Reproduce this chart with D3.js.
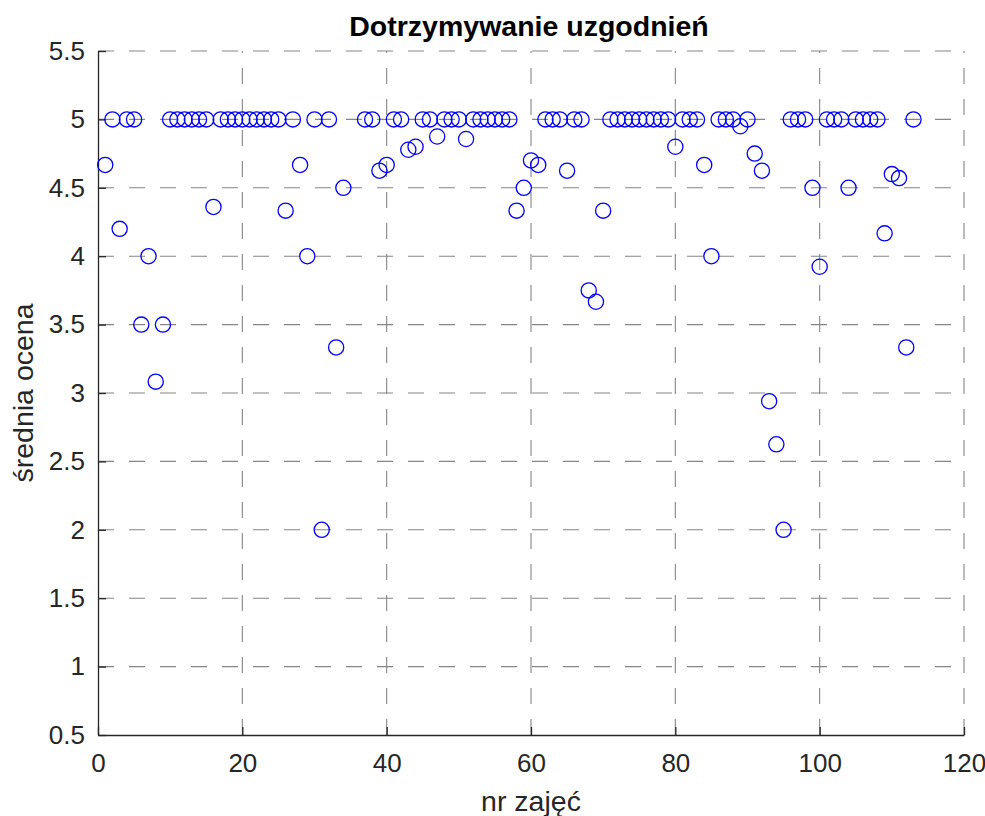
<!DOCTYPE html>
<html>
<head>
<meta charset="utf-8">
<script src="https://cdn.jsdelivr.net/npm/d3@7"></script>
<style>
  body { margin: 0; background: #fff; }
  text { font-family: "Liberation Sans", Arial, sans-serif; }
</style>
</head>
<body>
<div id="chart"></div>
<script>
// lesson numbers (35 and 36 have no rating)
const lessons = [
  1, 2, 3, 4, 5, 6, 7, 8, 9, 10, 11, 12, 13, 14, 15, 16, 17, 18, 19, 20,
  21, 22, 23, 24, 25, 26, 27, 28, 29, 30, 31, 32, 33, 34, 37, 38, 39, 40,
  41, 42, 43, 44, 45, 46, 47, 48, 49, 50, 51, 52, 53, 54, 55, 56, 57, 58,
  59, 60, 61, 62, 63, 64, 65, 66, 67, 68, 69, 70, 71, 72, 73, 74, 75, 76,
  77, 78, 79, 80, 81, 82, 83, 84, 85, 86, 87, 88, 89, 90, 91, 92, 93, 94,
  95, 96, 97, 98, 99, 100, 101, 102, 103, 104, 105, 106, 107, 108, 109,
  110, 111, 112, 113
];
const ratings = [
  4.667, 5, 4.2, 5, 5, 3.5, 4, 3.083, 3.5, 5, 5, 5, 5, 5, 5, 4.36, 5, 5, 5, 5,
  5, 5, 5, 5, 5, 4.333, 5, 4.667, 4, 5, 2, 5, 3.333, 4.5, 5, 5, 4.625, 4.667,
  5, 5, 4.778, 4.8, 5, 5, 4.875, 5, 5, 5, 4.857, 5, 5, 5, 5, 5, 5, 4.333,
  4.5, 4.7, 4.667, 5, 5, 5, 4.625, 5, 5, 3.75, 3.667, 4.333, 5, 5, 5, 5, 5, 5,
  5, 5, 5, 4.8, 5, 5, 5, 4.667, 4, 5, 5, 5, 4.95, 5, 4.75, 4.625, 2.94, 2.625,
  2, 5, 5, 5, 4.5, 3.923, 5, 5, 5, 4.5, 5, 5, 5, 5, 4.167,
  4.6, 4.571, 3.333, 5
];
const xTicks = [0, 20, 40, 60, 80, 100, 120];
const yTicks = [0.5, 1, 1.5, 2, 2.5, 3, 3.5, 4, 4.5, 5, 5.5];

const data = lessons.map((l, i) => ({ x: l, y: ratings[i] }));

const width = 985, height = 816;
const margin = { top: 51, right: 21, bottom: 81, left: 98 };

const svg = d3.select("#chart").append("svg")
  .attr("width", width)
  .attr("height", height);

const x = d3.scaleLinear().domain([0, 120]).range([margin.left, width - margin.right]);
const y = d3.scaleLinear().domain([0.5, 5.5]).range([height - margin.bottom, margin.top]);

// grid
const grid = svg.append("g")
  .attr("stroke", "#858585")
  .attr("stroke-width", 1.1)
  .attr("stroke-dasharray", "16,15");
grid.selectAll(".gx").data(xTicks.slice(1)).enter().append("line")
  .attr("x1", d => x(d)).attr("x2", d => x(d))
  .attr("y1", y(0.5)).attr("y2", y(5.5));
grid.selectAll(".gy").data(yTicks.slice(1)).enter().append("line")
  .attr("y1", d => y(d)).attr("y2", d => y(d))
  .attr("x1", x(0)).attr("x2", x(120));

// axes with inward ticks
const xAxis = svg.append("g")
  .attr("transform", `translate(0,${y(0.5)})`)
  .call(d3.axisBottom(x).tickValues(xTicks).tickSize(-8).tickPadding(19).tickSizeOuter(0));
const yAxis = svg.append("g")
  .attr("transform", `translate(${x(0)},0)`)
  .call(d3.axisLeft(y).tickValues(yTicks).tickSize(-8).tickPadding(13).tickSizeOuter(0)
    .tickFormat(d3.format("")));

[xAxis, yAxis].forEach(a => {
  a.select(".domain").attr("stroke", "#262626").attr("stroke-width", 1.3);
  a.selectAll(".tick line").attr("stroke", "#262626").attr("stroke-width", 1.3);
  a.selectAll(".tick text")
    .attr("fill", "#262626")
    .style("font-size", "26px")
    .style("font-family", "'Liberation Sans', Arial, sans-serif");
});

// points
svg.append("g").selectAll("circle")
  .data(data)
  .enter()
  .append("circle")
  .attr("cx", d => x(d.x))
  .attr("cy", d => y(d.y))
  .attr("r", 7.6)
  .attr("fill", "none")
  .attr("stroke", "#0000ff")
  .attr("stroke-width", 1.3);

// labels
svg.append("text")
  .attr("x", (x(0) + x(120)) / 2 - 2)
  .attr("y", 36)
  .attr("text-anchor", "middle")
  .style("font-size", "28.5px")
  .style("font-weight", "bold")
  .attr("fill", "#000")
  .text("Dotrzymywanie uzgodnień");

svg.append("text")
  .attr("x", (x(0) + x(120)) / 2)
  .attr("y", 811)
  .attr("text-anchor", "middle")
  .style("font-size", "28.5px")
  .attr("fill", "#262626")
  .text("nr zajęć");

svg.append("text")
  .attr("transform", `translate(33,${(y(0.5) + y(5.5)) / 2}) rotate(-90)`)
  .attr("text-anchor", "middle")
  .style("font-size", "28.5px")
  .attr("fill", "#262626")
  .text("średnia ocena");
</script>
</body>
</html>
